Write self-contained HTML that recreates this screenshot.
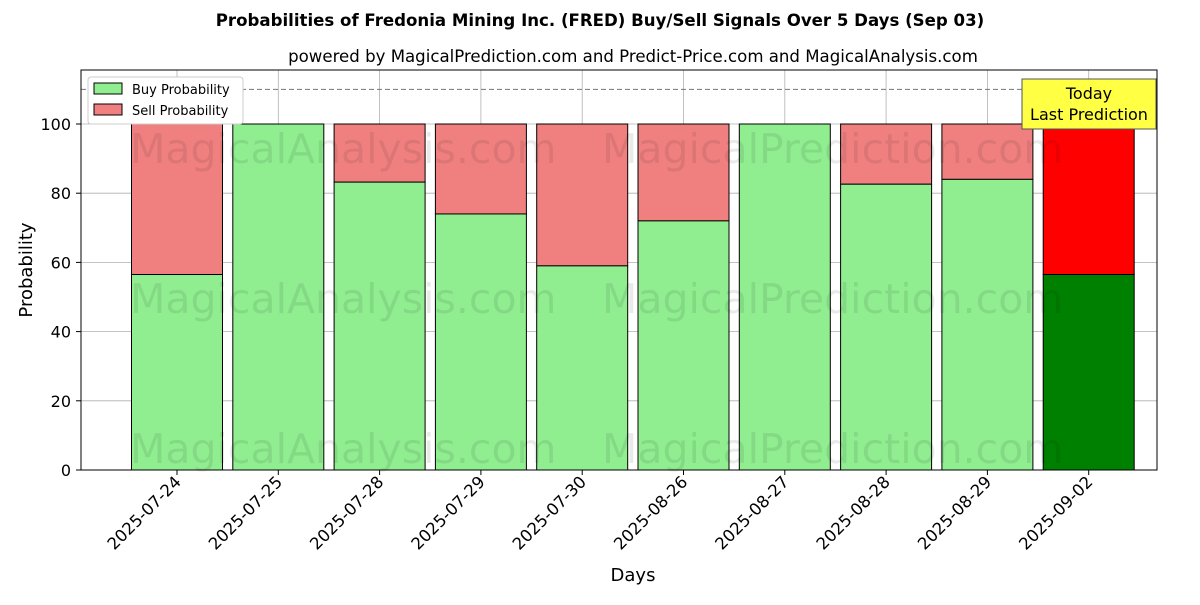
<!DOCTYPE html>
<html><head><meta charset="utf-8"><style>body{margin:0;background:#fff}svg text{font-family:"DejaVu Sans","Liberation Sans",sans-serif}</style></head>
<body>
<svg id="c" width="1200" height="600" xmlns="http://www.w3.org/2000/svg">
<text x="600" y="26" text-anchor="middle" font-size="16.6" font-weight="bold">Probabilities of Fredonia Mining Inc. (FRED) Buy/Sell Signals Over 5 Days (Sep 03)</text>
<text x="633" y="62" text-anchor="middle" font-size="16.6">powered by MagicalPrediction.com and Predict-Price.com and MagicalAnalysis.com</text>
<g id="grid"></g><g id="bars"></g>
<g font-size="41" fill="#000" opacity="0.08">
<text x="130" y="163">MagicalAnalysis.com</text><text x="602" y="163">MagicalPrediction.com</text>
<text x="130" y="313">MagicalAnalysis.com</text><text x="602" y="313">MagicalPrediction.com</text>
<text x="130" y="463">MagicalAnalysis.com</text><text x="602" y="463">MagicalPrediction.com</text></g>
<line x1="81" x2="1157" y1="89.4" y2="89.4" stroke="#777" stroke-dasharray="5,3"/>
<rect x="81" y="70" width="1076" height="400" fill="none" stroke="#000"/>
<g id="ticks"></g>
<text x="32" y="270" font-size="18" text-anchor="middle" transform="rotate(-90 32 270)">Probability</text>
<text x="633" y="581" font-size="18" text-anchor="middle">Days</text>
<g>
<rect x="88" y="77" width="155" height="47" fill="#fff" stroke="#ccc" rx="3"/>
<rect x="94" y="83" width="28" height="11" fill="#90ee90" stroke="#000"/><text x="132" y="94" font-size="13">Buy Probability</text>
<rect x="94" y="104" width="28" height="11" fill="#f08080" stroke="#000"/><text x="132" y="115" font-size="13">Sell Probability</text></g>
<g>
<rect x="1022" y="79" width="134" height="50" fill="#ffff44" stroke="#555"/>
<text x="1089" y="99" font-size="16" text-anchor="middle">Today</text>
<text x="1089" y="120" font-size="16" text-anchor="middle">Last Prediction</text></g>
</svg>
<script>
const days=["2025-07-24","2025-07-25","2025-07-28","2025-07-29","2025-07-30","2025-08-26","2025-08-27","2025-08-28","2025-08-29","2025-09-02"];
const buy=[56.5,100,83.2,74,59,72,100,82.6,84,56.5];
const yTicks=[0,20,40,60,80,100];
const NS="http://www.w3.org/2000/svg";
const X=i=>177+i*101.3, Y=v=>470-v*3.46, bw=91;
function mk(t,a,p){const e=document.createElementNS(NS,t);for(const k in a)e.setAttribute(k,a[k]);p.appendChild(e);return e;}
const g=document.getElementById('grid'),b=document.getElementById('bars'),tk=document.getElementById('ticks');
yTicks.forEach(v=>{
 const l=mk('line',{x1:81,x2:1157,y1:Y(v),y2:Y(v),stroke:'#b0b0b0','stroke-width':0.8},g);
 
 
 mk('line',{x1:76,x2:81,y1:Y(v),y2:Y(v),stroke:'#000'},tk);
 const t=mk('text',{x:71,y:Y(v)+6,'font-size':16,'text-anchor':'end'},tk);t.textContent=v;
 
 
});
days.forEach((d,i)=>{
 const l=mk('line',{x1:X(i),x2:X(i),y1:70,y2:470,stroke:'#b0b0b0','stroke-width':0.8},g);
 
 
 const last=i===days.length-1;
 const s=mk('rect',{x:X(i)-bw/2,y:Y(100),width:bw,height:Y(buy[i])-Y(100),fill:last?'#ff0000':'#f08080',stroke:'#000'},b);
 
 
 const r=mk('rect',{x:X(i)-bw/2,y:Y(buy[i]),width:bw,height:Y(0)-Y(buy[i]),fill:last?'#008000':'#90ee90',stroke:'#000'},b);
 
 
 mk('line',{x1:X(i),x2:X(i),y1:470,y2:475,stroke:'#000'},tk);
 const t=mk('text',{x:X(i)+5,y:483,'font-size':16.5,'text-anchor':'end',transform:`rotate(-45 ${X(i)+5} 483)`},tk);t.textContent=d;
 
 
});
</script>
</body></html>
